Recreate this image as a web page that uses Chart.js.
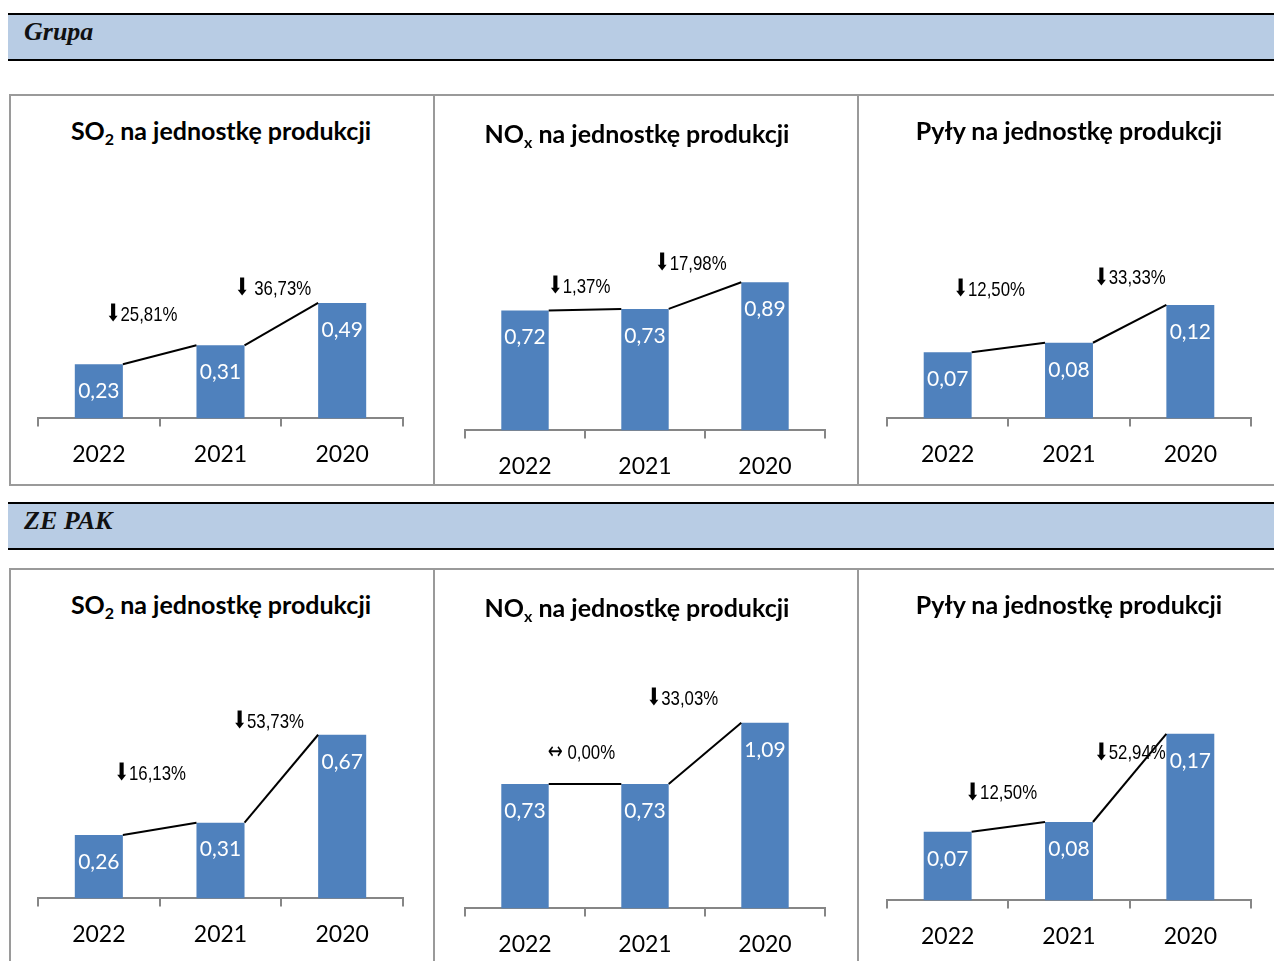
<!DOCTYPE html>
<html>
<head>
<meta charset="utf-8">
<script src="https://cdn.jsdelivr.net/npm/chart.js@4.4.1/dist/chart.umd.min.js"></script>
<style>
  body { margin: 0; background: #fff; width: 1274px; height: 961px; overflow: hidden; position: relative; font-family: Lato, sans-serif; }
  .header { position: absolute; left: 8px; width: 1266px; height: 44px; border-top: 2px solid #000; border-bottom: 2px solid #000; background: #B8CCE4; box-sizing: content-box; }
  .header span { position: absolute; left: 16px; top: 2px; font-family: "Liberation Serif", serif; font-weight: bold; font-style: italic; font-size: 26px; color: #111; }
  .panel { position: absolute; width: 424px; }
  .panel .frame { position: absolute; left: 0; top: 0; right: 0; bottom: 0; border: 2px solid #9a9a9a; border-right: none; }
  .panel canvas { position: absolute; left: 0; top: 0; }
  .panel .title { position: absolute; left: 0; width: 424px; text-align: center; font-family: Lato, sans-serif; font-weight: bold; font-size: 25px; color: #000; }
  .title sub { font-size: 16px; vertical-align: -5px; line-height: 0; }
</style>
</head>
<body>
<div class="header" style="top:13px"><span>Grupa</span></div>
<div class="header" style="top:502px"><span>ZE PAK</span></div>

<div class="panel" id="p1" style="left:9px; top:94px; height:392px"><div class="frame"></div><div class="title" style="top:21px">SO<sub>2</sub> na jednostkę produkcji</div><canvas id="c1" width="424" height="392"></canvas></div>
<div class="panel" id="p2" style="left:433px; top:94px; height:392px"><div class="frame"></div><div class="title" style="top:24px; left:-8px">NO<sub>x</sub> na jednostkę produkcji</div><canvas id="c2" width="424" height="392"></canvas></div>
<div class="panel" id="p3" style="left:857px; top:94px; height:392px"><div class="frame"></div><div class="title" style="top:21px">Pyły na jednostkę produkcji</div><canvas id="c3" width="424" height="392"></canvas></div>
<div class="panel" id="p4" style="left:9px; top:568px; height:400px"><div class="frame"></div><div class="title" style="top:21px">SO<sub>2</sub> na jednostkę produkcji</div><canvas id="c4" width="424" height="400"></canvas></div>
<div class="panel" id="p5" style="left:433px; top:568px; height:400px"><div class="frame"></div><div class="title" style="top:24px; left:-8px">NO<sub>x</sub> na jednostkę produkcji</div><canvas id="c5" width="424" height="400"></canvas></div>
<div class="panel" id="p6" style="left:857px; top:568px; height:400px"><div class="frame"></div><div class="title" style="top:21px">Pyły na jednostkę produkcji</div><canvas id="c6" width="424" height="400"></canvas></div>

<script>
// titles were set in the html above, these are the values
var years = ['2022', '2021', '2020'];

var grupaSO2 = [0.23, 0.31, 0.49];
var grupaNOx = [0.72, 0.73, 0.89];
var grupaPyly = [0.07, 0.08, 0.12];
var zepakSO2 = [0.26, 0.31, 0.67];
var zepakNOx = [0.73, 0.73, 1.09];
var zepakPyly = [0.07, 0.08, 0.17];

// change between neighbouring years, first char is the arrow
var grupaSO2Change = ['\u2B0725,81%', '\u2B07 36,73%'];
var grupaNOxChange = ['\u2B071,37%', '\u2B0717,98%'];
var grupaPylyChange = ['\u2B0712,50%', '\u2B0733,33%'];
var zepakSO2Change = ['\u2B0716,13%', '\u2B0753,73%'];
var zepakNOxChange = ['\u2194 0,00%', '\u2B0733,03%'];
var zepakPylyChange = ['\u2B0712,50%', '\u2B0752,94%'];

function fmt(v) {
  return v.toFixed(2).replace('.', ',');
}

var extras = {
  id: 'extras',
  afterDatasetsDraw: function(chart, args, opts) {
    var ctx = chart.ctx;
    var bars = chart.getDatasetMeta(0).data;
    var values = chart.data.datasets[0].data;
    ctx.save();
    ctx.strokeStyle = '#000';
    ctx.lineWidth = 2;
    for (var i = 0; i < bars.length - 1; i++) {
      var a = bars[i], b = bars[i + 1];
      ctx.beginPath();
      ctx.moveTo(a.x + a.width / 2, a.y);
      ctx.lineTo(b.x - b.width / 2, b.y);
      ctx.stroke();
    }
    ctx.fillStyle = '#fff';
    ctx.font = '21px Lato';
    ctx.textAlign = 'center';
    ctx.textBaseline = 'middle';
    bars.forEach(function(bar, i) {
      ctx.fillText(fmt(values[i]), bar.x, bar.y + 27);
    });
    // change labels, placed in data units like an annotation (narrow font faked by scaling)
    ctx.fillStyle = '#000';
    ctx.textAlign = 'left';
    var symFont = '24px "DejaVu Sans", sans-serif';
    var txtFont = '21px "Liberation Sans", sans-serif';
    opts.changes.forEach(function(txt, i) {
      var px = chart.scales.x.getPixelForValue(opts.spots[i][0]);
      var py = chart.scales.y.getPixelForValue(opts.spots[i][1]);
      var sym = txt.charAt(0), rest = txt.slice(1);
      ctx.font = symFont;
      var ws = ctx.measureText(sym).width * 0.75;
      ctx.font = txtFont;
      var wr = ctx.measureText(rest).width * 0.8;
      var x0 = px - (ws + wr) / 2;
      ctx.save();
      ctx.translate(x0, py);
      ctx.scale(0.75, 1);
      ctx.font = symFont;
      ctx.fillText(sym, 0, 0);
      ctx.restore();
      ctx.save();
      ctx.translate(x0 + ws, py);
      ctx.scale(0.8, 1);
      ctx.font = txtFont;
      ctx.fillText(rest, 0, 0);
      ctx.restore();
    });
    ctx.restore();
  }
};

function drawChart(id, values, changes, spots, yMax, pad) {
  return new Chart(document.getElementById(id), {
    type: 'bar',
    data: {
      labels: years,
      datasets: [{
        data: values,
        backgroundColor: '#4F81BD',
        categoryPercentage: 0.395,
        barPercentage: 1
      }]
    },
    options: {
      responsive: false,
      animation: false,
      layout: { padding: pad },
      plugins: {
        legend: { display: false },
        tooltip: { enabled: false },
        extras: { changes: changes, spots: spots }
      },
      scales: {
        x: {
          grid: { offset: true, drawOnChartArea: false, tickLength: 8, color: '#868686', lineWidth: 2 },
          border: { color: '#868686', width: 2 },
          ticks: { color: '#000', font: { family: 'Lato', size: 23 }, padding: 14 }
        },
        y: { display: false, min: 0, max: yMax }
      }
    },
    plugins: [extras]
  });
}

drawChart('c1', grupaSO2, grupaSO2Change, [[0.35, 0.439], [1.43, 0.549]], 0.6,
  { top: 183, left: 29, right: 30, bottom: 392 - 325 - 63 });
drawChart('c2', grupaNOx, grupaNOxChange, [[0.45, 0.862], [1.38, 1.0]], 1.0,
  { top: 170, left: 32, right: 32, bottom: 392 - 337 - 63 });
drawChart('c3', grupaPyly, grupaPylyChange, [[0.34, 0.136], [1.5, 0.148]], 0.14,
  { top: 192, left: 30, right: 30, bottom: 392 - 325 - 63 });
drawChart('c4', zepakSO2, zepakSO2Change, [[0.42, 0.51], [1.39, 0.722]], 0.8,
  { top: 135, left: 29, right: 30, bottom: 400 - 331 - 63 });
drawChart('c5', zepakNOx, zepakNOxChange, [[0.47, 0.912], [1.31, 1.228]], 1.2,
  { top: 136, left: 32, right: 32, bottom: 400 - 341 - 63 });
drawChart('c6', zepakPyly, zepakPylyChange, [[0.44, 0.109], [1.5, 0.150]], 0.18,
  { top: 156, left: 30, right: 30, bottom: 400 - 333 - 63 });
</script>
</body>
</html>
